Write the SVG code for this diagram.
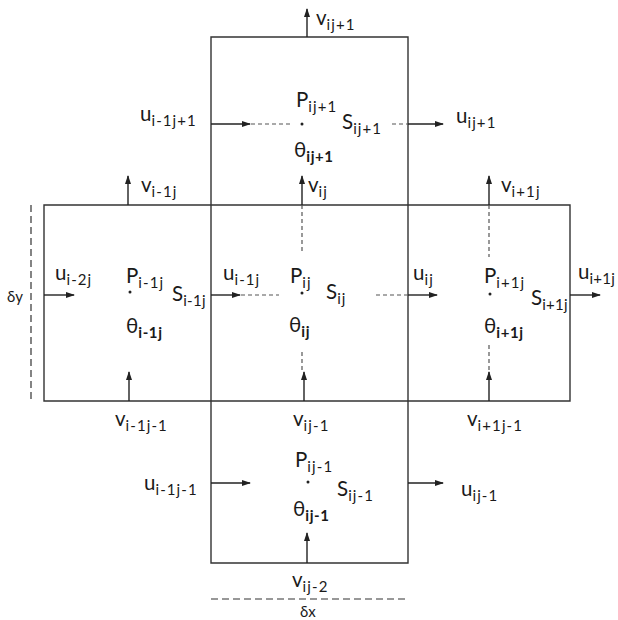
<svg xmlns="http://www.w3.org/2000/svg" width="618" height="620" viewBox="0 0 618 620">
<defs>
<marker id="ah" markerUnits="userSpaceOnUse" markerWidth="9" markerHeight="7" refX="8" refY="3.5" orient="auto">
<path d="M0,0.5 L9,3.5 L0,6.5 Z" fill="#222"/>
</marker>
<style>
.grid{fill:none;stroke:#333;stroke-width:1.4}
.ar{stroke:#222;stroke-width:1.4;fill:none;marker-end:url(#ah)}
.ds{stroke:#555;stroke-width:1.2;fill:none;stroke-dasharray:4,3}
.dim{stroke:#333;stroke-width:1.2;fill:none;stroke-dasharray:7,4}
text{font-family:Lato,"Open Sans","Liberation Sans",sans-serif;font-size:20.5px;fill:#1a1a1a}
.s{font-size:15px;letter-spacing:1.1px}
.t{font-size:15px;letter-spacing:0.3px}
.b{font-size:15px;font-weight:bold;letter-spacing:0.6px}
.dot{fill:#222}
</style>
</defs>
<g id="grid">
<path class="grid" d="M211,37 H408 V563 H211 Z M44,205 H570 V401 H44 Z"/>
</g>
<g id="connectors">
<line class="ar" x1="307" y1="37" x2="307" y2="9"/>
<line class="ar" x1="211" y1="124" x2="250" y2="124"/>
<line class="ds" x1="251" y1="124" x2="290" y2="124"/>
<line class="ds" x1="392" y1="124" x2="408" y2="124"/>
<line class="ar" x1="408" y1="124" x2="443" y2="124"/>
<line class="ar" x1="128" y1="205" x2="128" y2="176"/>
<line class="ar" x1="302" y1="205" x2="302" y2="176"/>
<line class="ar" x1="489" y1="205" x2="489" y2="176"/>
<line class="ar" x1="44" y1="295" x2="74" y2="295"/>
<line class="ar" x1="211" y1="295" x2="240" y2="295"/>
<line class="ds" x1="241" y1="295" x2="279" y2="295"/>
<line class="ds" x1="376" y1="295" x2="408" y2="295"/>
<line class="ar" x1="408" y1="295" x2="437" y2="295"/>
<line class="ar" x1="570" y1="295" x2="600" y2="295"/>
<line class="ds" x1="302" y1="205" x2="302" y2="251"/>
<line class="ds" x1="302" y1="352" x2="302" y2="372"/>
<line class="ar" x1="304" y1="401" x2="304" y2="372"/>
<line class="ds" x1="489" y1="205" x2="489" y2="257"/>
<line class="ds" x1="489" y1="345" x2="489" y2="372"/>
<line class="ar" x1="489" y1="401" x2="489" y2="372"/>
<line class="ar" x1="129" y1="401" x2="129" y2="372"/>
<line class="ar" x1="211" y1="483" x2="250" y2="483"/>
<line class="ar" x1="408" y1="483" x2="443" y2="483"/>
<line class="ar" x1="307" y1="563" x2="307" y2="533"/>
<line class="dim" x1="31" y1="205" x2="31" y2="401"/>
<line class="dim" x1="211" y1="599" x2="408" y2="599"/>
</g>
<g id="cell-top">
<circle class="dot" cx="302" cy="124" r="1.5"/>
<text x="296" y="107">P<tspan class="s" dy="5">ij+1</tspan></text>
<text x="342" y="129">S<tspan class="s" dy="5">ij+1</tspan></text>
<text x="294" y="157">θ<tspan class="b" dy="5">ij+1</tspan></text>
</g>
<g id="cell-left">
<circle class="dot" cx="130" cy="292" r="1.5"/>
<text x="126" y="283">P<tspan class="s" dy="5">i-1j</tspan></text>
<text x="172" y="301">S<tspan class="t" dy="5">i-1j</tspan></text>
<text x="126" y="333">θ<tspan class="b" dy="5">i-1j</tspan></text>
</g>
<g id="cell-center">
<circle class="dot" cx="302" cy="293" r="1.5"/>
<text x="290" y="283">P<tspan class="s" dy="5">ij</tspan></text>
<text x="326" y="299">S<tspan class="s" dy="5">ij</tspan></text>
<text x="289" y="332">θ<tspan class="b" dy="5">ij</tspan></text>
</g>
<g id="cell-right">
<circle class="dot" cx="490" cy="294" r="1.5"/>
<text x="484" y="283">P<tspan class="s" dy="5">i+1j</tspan></text>
<text x="531" y="305">S<tspan class="t" dy="5">i+1j</tspan></text>
<text x="484" y="333">θ<tspan class="b" dy="5">i+1j</tspan></text>
</g>
<g id="cell-bottom">
<circle class="dot" cx="308" cy="482" r="1.5"/>
<text x="295" y="467">P<tspan class="s" dy="5">ij-1</tspan></text>
<text x="337" y="496">S<tspan class="s" dy="5">ij-1</tspan></text>
<text x="293" y="516">θ<tspan class="b" dy="5">ij-1</tspan></text>
</g>
<g id="labels">
<text x="316" y="25">v<tspan class="s" dy="5">ij+1</tspan></text>
<text x="140" y="121">u<tspan class="s" dy="5">i-1j+1</tspan></text>
<text x="456" y="123">u<tspan class="s" dy="5">ij+1</tspan></text>
<text x="141" y="192">v<tspan class="s" dy="5">i-1j</tspan></text>
<text x="308" y="192">v<tspan class="s" dy="5">ij</tspan></text>
<text x="501" y="192">v<tspan class="s" dy="5">i+1j</tspan></text>
<text x="55" y="280">u<tspan class="s" dy="5">i-2j</tspan></text>
<text x="223" y="280">u<tspan class="s" dy="5">i-1j</tspan></text>
<text x="413" y="280">u<tspan class="s" dy="5">ij</tspan></text>
<text x="578" y="279">u<tspan class="t" dy="5">i+1j</tspan></text>
<text x="7" y="302" style="font-size:15px">δy</text>
<text x="115" y="426">v<tspan class="s" dy="5">i-1j-1</tspan></text>
<text x="293" y="426">v<tspan class="s" dy="5">ij-1</tspan></text>
<text x="467" y="426">v<tspan class="s" dy="5">i+1j-1</tspan></text>
<text x="144" y="490">u<tspan class="s" dy="5">i-1j-1</tspan></text>
<text x="461" y="496">u<tspan class="s" dy="5">ij-1</tspan></text>
<text x="292" y="587">v<tspan class="s" dy="5">ij-2</tspan></text>
<text x="300" y="617" style="font-size:15px">δx</text>
</g>
</svg>
